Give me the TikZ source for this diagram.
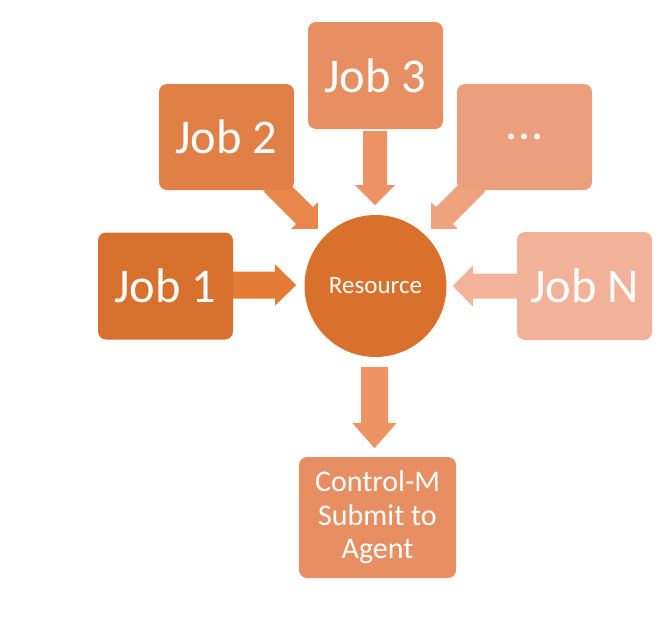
\documentclass[tikz,border=0pt]{standalone}
\usepackage{fontspec}
\setmainfont{Carlito}
\usetikzlibrary{calc}
\definecolor{cJa}{HTML}{D8712D}
\definecolor{cJb}{HTML}{E07F46}
\definecolor{cJc}{HTML}{E78F62}
\definecolor{cJd}{HTML}{EC9F7D}
\definecolor{cJn}{HTML}{F2B29A}
\definecolor{cRes}{HTML}{D9712C}
\definecolor{cAa}{HTML}{E37B35}
\definecolor{cAb}{HTML}{E8864C}
\definecolor{cAc}{HTML}{EC9264}
\definecolor{cAd}{HTML}{EFA27E}
\definecolor{cAn}{HTML}{F3B39A}
\definecolor{cAo}{HTML}{EE9464}
\definecolor{cCm}{HTML}{E78F62}
% #1 start coordinate, #2 angle, #3 length, #4 shaft half, #5 head half, #6 head length, #7 colour
\newcommand{\blockarr}[7]{%
  \fill[#7, shift={#1}, rotate=#2]
    (0,-#4) -- ({#3-#6},-#4) -- ({#3-#6},-#5) -- (#3,0) -- ({#3-#6},#5) -- ({#3-#6},#4) -- (0,#4) -- cycle;}
\begin{document}
\begin{tikzpicture}[x=1pt,y=-1pt,
  jobbox/.style={rectangle, rounded corners=8pt, minimum width=135pt, minimum height=107pt,
    inner sep=0pt, text=white, font=\fontsize{48.5}{56}\selectfont},
  resnode/.style={circle, minimum size=142pt, inner sep=0pt, fill=cRes, text=white,
    font=\fontsize{25}{29}\selectfont},
  cmbox/.style={rectangle, rounded corners=8pt, minimum width=157pt, minimum height=121pt,
    inner sep=0pt, fill=cCm, text=white, align=center, font=\fontsize{30}{33.5}\selectfont}]
\useasboundingbox (0,0) rectangle (668,616);
\coordinate (p2) at (226.5,137);
\coordinate (pd) at (524.5,137);
% diagonal arrows beneath boxes
\blockarr{(272,183)}{-45}{65}{12}{19}{19}{cAb}
\blockarr{(477,183)}{-135}{65}{12}{19}{19}{cAd}
% boxes
\node[jobbox, fill=cJa] (j1) at (165.5,286) {Job 1};
\node[jobbox, fill=cJb, minimum height=106pt] (j2) at (p2) {Job 2};
\node[jobbox, fill=cJc] (j3) at (375.5,75.5) {Job 3};
\node[jobbox, fill=cJd, minimum height=106pt] (jd) at (pd) {.\kern1pt.\kern1pt.};
\node[jobbox, fill=cJn, minimum height=108pt] (jn) at (584.5,286) {Job N};
\node[resnode] (res) at (375.5,286) {Resource};
\node[cmbox] (cm) at (377.5,517.5) {Control-M\\Submit to\\Agent};
% straight arrows
\blockarr{($(j1.east)+(0,-1)$)}{0}{63}{13.5}{20.5}{21}{cAa}
\blockarr{($(j3.south)+(-0.5,2)$)}{-90}{74}{12}{20}{20}{cAc}
\blockarr{($(jn.west)+(0,0)$)}{180}{64}{12.5}{20.5}{20}{cAn}
\blockarr{($(res.south)+(-1,10)$)}{-90}{81}{13.5}{22}{25}{cAo}
\end{tikzpicture}
\end{document}
